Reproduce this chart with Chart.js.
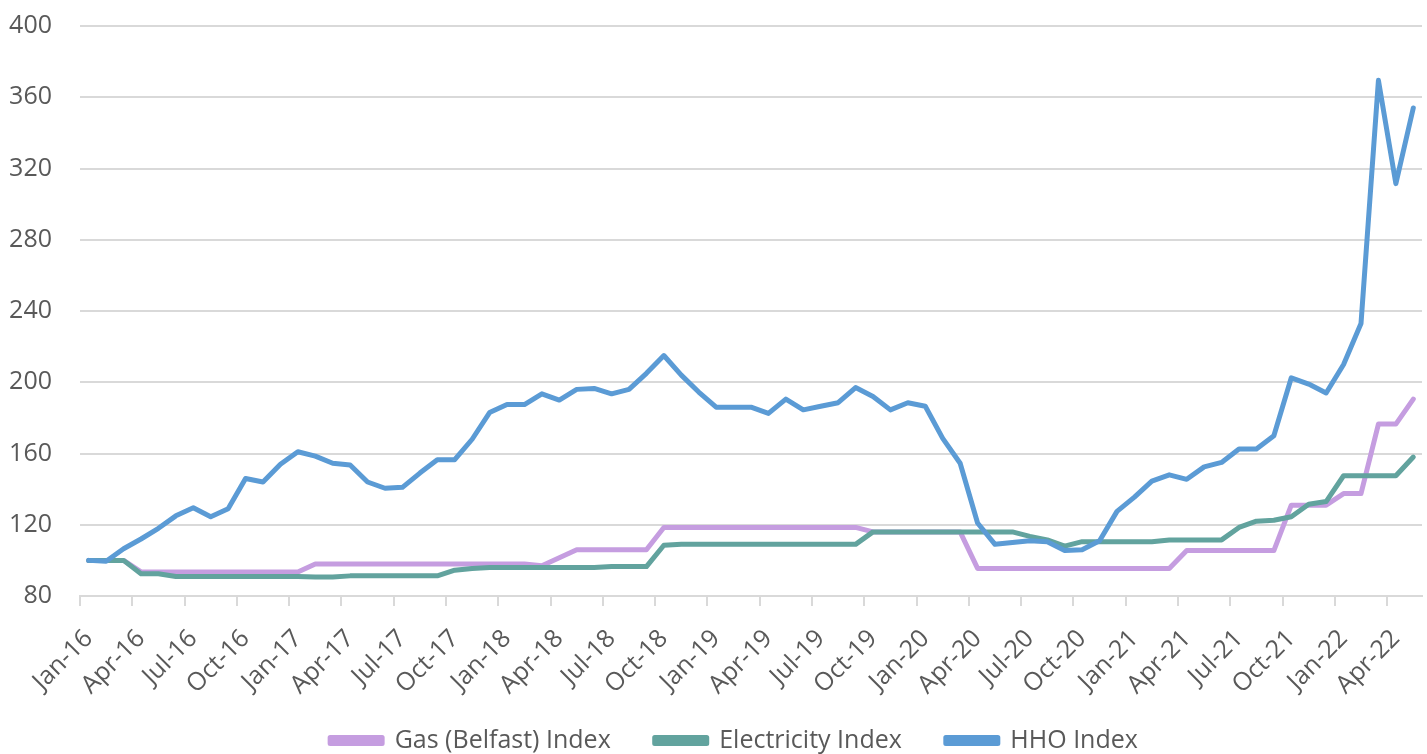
<!DOCTYPE html>
<html>
<head>
<meta charset="utf-8">
<script src="https://cdn.jsdelivr.net/npm/chart.js@4.4.1/dist/chart.umd.min.js"></script>
<style>
  html, body { margin: 0; padding: 0; background: #fff; }
  #wrap { width: 1427px; height: 754px; }
</style>
</head>
<body>
<div id="wrap"><canvas id="c"></canvas></div>
<script>
var months = [
  "Jan-16","Feb-16","Mar-16","Apr-16","May-16","Jun-16","Jul-16","Aug-16","Sep-16","Oct-16","Nov-16","Dec-16",
  "Jan-17","Feb-17","Mar-17","Apr-17","May-17","Jun-17","Jul-17","Aug-17","Sep-17","Oct-17","Nov-17","Dec-17",
  "Jan-18","Feb-18","Mar-18","Apr-18","May-18","Jun-18","Jul-18","Aug-18","Sep-18","Oct-18","Nov-18","Dec-18",
  "Jan-19","Feb-19","Mar-19","Apr-19","May-19","Jun-19","Jul-19","Aug-19","Sep-19","Oct-19","Nov-19","Dec-19",
  "Jan-20","Feb-20","Mar-20","Apr-20","May-20","Jun-20","Jul-20","Aug-20","Sep-20","Oct-20","Nov-20","Dec-20",
  "Jan-21","Feb-21","Mar-21","Apr-21","May-21","Jun-21","Jul-21","Aug-21","Sep-21","Oct-21","Nov-21","Dec-21",
  "Jan-22","Feb-22","Mar-22","Apr-22","May-22"
];

var gasIndex = [
  100,100,100,93.5,93.5,93.5,93.5,93.5,93.5,93.5,93.5,93.5,
  93.5,98,98,98,98,98,98,98,98,98,98,98,
  98,98,97,101.5,106,106,106,106,106,118.5,118.5,118.5,
  118.5,118.5,118.5,118.5,118.5,118.5,118.5,118.5,118.5,116,116,116,
  116,116,116,95.5,95.5,95.5,95.5,95.5,95.5,95.5,95.5,95.5,
  95.5,95.5,95.5,105.5,105.5,105.5,105.5,105.5,105.5,131,131,131,
  137.5,137.5,176.5,176.5,190.5
];

var elecIndex = [
  100,100,100,92.5,92.5,91,91,91,91,91,91,91,
  91,90.7,90.7,91.3,91.3,91.3,91.3,91.3,91.3,94.5,95.5,96,
  96,96,96,96,96,96,96.5,96.5,96.5,108.5,109,109,
  109,109,109,109,109,109,109,109,109,116,116,116,
  116,116,116,116,116,116,113.5,111.5,108,110.5,110.5,110.5,
  110.5,110.5,111.5,111.5,111.5,111.5,118.5,122,122.5,124.5,131.5,133,
  147.5,147.5,147.5,147.5,158
];

var hhoIndex = [
  100,99.5,106.5,112,118,125,129.5,124.5,129,146,144,154,
  161,158.5,154.5,153.5,144,140.5,141,149,156.5,156.5,168,183,
  187.5,187.5,193.5,190,196,196.5,193.5,196,205,215,204,194.5,
  186,186,186,182.5,190.5,184.5,186.5,188.5,197,192,184.5,188.5,
  186.5,168.5,154.5,121,109,110,111,110.5,105.5,106,111,127.5,
  135.5,144.5,148,145.5,152.5,155,162.5,162.5,170,202.5,199,194,
  210,233,369.5,311.5,354
];

var yTicks = { min: 80, max: 400, step: 40 };

var txt = "#595959",
    grid = "#d9d9d9",
    fnt = { family: "'Open Sans', sans-serif", size: 25 };

function series(label, data, color, ord) {
  return {
    label: label,
    data: data,
    borderColor: color,
    backgroundColor: color,
    borderWidth: 5,
    pointRadius: 0,
    pointHoverRadius: 0,
    tension: 0,
    borderCapStyle: "round",
    borderJoinStyle: "round",
    order: ord
  };
}

// labels may spill outside the (pinned) axis boxes, so no clipping
function noClip(s){ s._computeLabelArea = function(){ return undefined; }; }

var ctx = document.getElementById("c").getContext("2d");

new Chart(ctx, {
  type: "line",
  data: {
    labels: months,
    datasets: [
      series("Gas (Belfast) Index", gasIndex, "#c59de0", 3),
      series("Electricity Index", elecIndex, "#62a39e", 2),
      series("HHO Index", hhoIndex, "#5b9bd5", 1)
    ]
  },
  options: {
    responsive: true,
    maintainAspectRatio: false,
    animation: false,
    layout: { padding: { top: 26, right: 5, left: 46, bottom: 0 } },
    plugins: {
      tooltip: { enabled: false },
      legend: {
        position: "bottom",
        maxHeight: 70,
        labels: {
          color: txt,
          font: fnt,
          boxWidth: 52,
          boxHeight: 6,
          padding: 44,
          sort: function(a, b){ return a.datasetIndex - b.datasetIndex; }
        }
      }
    },
    scales: {
      x: {
        offset: true,
        afterFit: function(s){ s.paddingLeft = 0; s.paddingRight = 0; s.height = 88; noClip(s); },
        grid: {
          offset: true,
          drawOnChartArea: false,
          drawTicks: true,
          tickLength: 10,
          lineWidth: 2,
          color: function(c){ return c.index % 3 === 0 ? grid : "rgba(0,0,0,0)"; }
        },
        border: { color: grid, width: 2 },
        ticks: {
          autoSkip: false,
          maxRotation: 45,
          minRotation: 45,
          padding: 18,
          color: txt,
          font: fnt,
          callback: function(v, i){ return i % 3 === 0 ? this.getLabelForValue(v) : ""; }
        }
      },
      y: {
        min: yTicks.min,
        max: yTicks.max,
        afterFit: function(s){ s.paddingTop = 0; s.paddingBottom = 0; s.width = 34; noClip(s); },
        grid: { color: grid, lineWidth: 2, drawTicks: false },
        border: { display: false },
        ticks: { stepSize: yTicks.step, padding: 28, color: txt, font: fnt }
      }
    }
  }
});
</script>
</body>
</html>
